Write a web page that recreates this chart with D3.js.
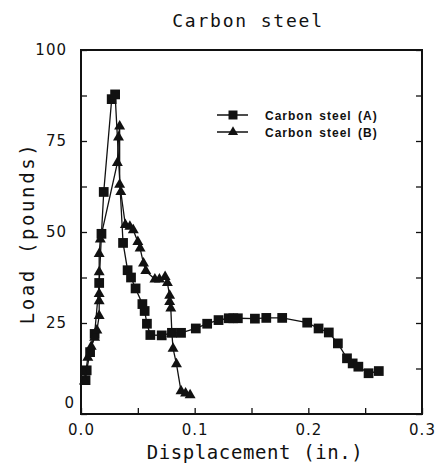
<!DOCTYPE html>
<html>
<head>
<meta charset="utf-8">
<script src="https://cdn.jsdelivr.net/npm/d3@7"></script>
<style>
  html, body { margin: 0; padding: 0; background: #fff; }
  svg { display: block; }
</style>
</head>
<body>
<svg id="chart" width="439" height="473"></svg>
<script>
// Load–displacement curves for two carbon steel specimens
const titleText = "Carbon steel";
const xLabel = "Displacement (in.)";
const yLabel = "Load (pounds)";
const seriesNames = ["Carbon steel (A)", "Carbon steel (B)"];

// Specimen A (square markers)
const dispA = [0.004, 0.005, 0.008, 0.012, 0.016, 0.018, 0.020, 0.027, 0.030, 0.037,
               0.041, 0.044, 0.048, 0.054, 0.056, 0.058, 0.061, 0.071, 0.080, 0.088,
               0.101, 0.111, 0.121, 0.130, 0.134, 0.138, 0.153, 0.163, 0.177, 0.199,
               0.209, 0.218, 0.226, 0.234, 0.239, 0.244, 0.253, 0.262];
const loadA = [9.3, 12, 17, 22, 36, 49.5, 61, 86.5, 87.8, 47,
               39.5, 37.5, 34.5, 30.2, 28.3, 24.8, 21.7, 21.6, 22.3, 22.3,
               23.5, 24.8, 25.8, 26.3, 26.3, 26.3, 26.2, 26.4, 26.4, 25.1,
               23.5, 22.4, 19.4, 15.3, 13.9, 13, 11.2, 11.8];

// Specimen B (triangle markers)
const dispB = [0.003, 0.006, 0.009, 0.012, 0.014, 0.016, 0.016, 0.016, 0.016, 0.016,
               0.017, 0.032, 0.033, 0.034, 0.034, 0.035, 0.039, 0.043, 0.046, 0.050,
               0.052, 0.055, 0.057, 0.065, 0.069, 0.074, 0.076, 0.078, 0.078, 0.079,
               0.080, 0.081, 0.084, 0.088, 0.092, 0.096];
const loadB = [9, 15.5, 18.5, 21, 23, 27, 31, 33, 39, 44,
               48, 69, 76, 79, 63, 61, 52, 51.5, 50.5, 47.3,
               45.5, 41.4, 39.3, 37, 37, 37.7, 36, 32.5, 30.8, 29,
               22, 18, 13.7, 6.3, 5.7, 5.2];

const xMajorTicks = [0.0, 0.1, 0.2, 0.3];
const xAllTicks = [0, 0.05, 0.1, 0.15, 0.2, 0.25, 0.3];
const yMajorTicks = [0, 25, 50, 75, 100];
const yAllTicks = [0, 12.5, 25, 37.5, 50, 62.5, 75, 87.5, 100];

const svg = d3.select("#chart");
const L = 81, R = 422, T = 50, B = 414;

const x = d3.scaleLinear().domain([0, 0.3]).range([L, R]);
const y = d3.scaleLinear().domain([0, 100]).range([B, T]);

const monoFont = "'DejaVu Sans Mono', monospace";
const tickFont = "'DejaVu Sans', sans-serif";

// Axes: ticks point inward, tick labels only on the majors
const fmtX = d => xMajorTicks.some(v => Math.abs(v - d) < 1e-9) ? d3.format(".1f")(d) : "";
const fmtY = d => yMajorTicks.includes(d) ? String(d) : "";

const gx = svg.append("g").attr("transform", `translate(0,${B})`)
  .call(d3.axisBottom(x).tickValues(xAllTicks).tickSizeInner(-6).tickSizeOuter(0)
    .tickPadding(10).tickFormat(fmtX));
const gy = svg.append("g").attr("transform", `translate(${L},0)`)
  .call(d3.axisLeft(y).tickValues(yAllTicks).tickSizeInner(-6).tickSizeOuter(0)
    .tickPadding(14).tickFormat(fmtY));
const gr = svg.append("g").attr("transform", `translate(${R},0)`)
  .call(d3.axisRight(y).tickValues(yAllTicks).tickSizeInner(-6).tickSizeOuter(0)
    .tickFormat(""));

[gx, gy, gr].forEach(g => {
  g.select(".domain").remove();
  g.selectAll(".tick line").attr("stroke", "#111").attr("stroke-width", 1.3);
  g.selectAll("text")
    .attr("font-family", tickFont).attr("font-size", 15)
    .attr("letter-spacing", 1).attr("fill", "#111");
});
// The zero label sits a little above the corner
gy.selectAll(".tick").filter(d => d === 0).select("text")
  .attr("dy", "-0.45em").attr("x", -6);

// Plot frame drawn as four solid bars from the scale extents
const [x0, x1] = x.range();
const [y0, y1] = y.range();
const bw = 2;
const bars = [
  { x: x0 - bw / 2, y: y1 - bw / 2, w: x1 - x0 + bw, h: bw },
  { x: x0 - bw / 2, y: y0 - bw / 2, w: x1 - x0 + bw, h: bw },
  { x: x0 - bw / 2, y: y1 - bw / 2, w: bw, h: y0 - y1 + bw },
  { x: x1 - bw / 2, y: y1 - bw / 2, w: bw, h: y0 - y1 + bw }
];
svg.append("g").selectAll("rect").data(bars).join("rect")
  .attr("x", d => d.x).attr("y", d => d.y)
  .attr("width", d => d.w).attr("height", d => d.h)
  .attr("fill", "#111");

// Series lines and markers
const dataA = dispA.map((d, i) => ({ x: d, y: loadA[i] }));
const dataB = dispB.map((d, i) => ({ x: d, y: loadB[i] }));
const line = d3.line().x(d => x(d.x)).y(d => y(d.y));

const series = [
  { data: dataA, symbol: d3.symbolSquare, size: 95 },
  { data: dataB, symbol: d3.symbolTriangle, size: 52 }
];

series.forEach(s => {
  svg.append("path").datum(s.data)
    .attr("d", line).attr("fill", "none")
    .attr("stroke", "#111").attr("stroke-width", 1.3);
  svg.append("g").selectAll("path").data(s.data).join("path")
    .attr("transform", d => `translate(${x(d.x)},${y(d.y)})`)
    .attr("d", d3.symbol().type(s.symbol).size(s.size))
    .attr("fill", "#111");
});

// Legend
const legend = svg.append("g");
series.forEach((s, i) => {
  const ly = 115 + i * 17;
  legend.append("line")
    .attr("x1", 217).attr("x2", 248).attr("y1", ly).attr("y2", ly)
    .attr("stroke", "#111").attr("stroke-width", 1.5);
  legend.append("path")
    .attr("transform", `translate(233,${ly})`)
    .attr("d", d3.symbol().type(s.symbol).size(s.size * 0.85))
    .attr("fill", "#111");
  legend.append("text")
    .attr("x", 265).attr("y", ly + 4.5)
    .attr("font-family", "'Liberation Sans', Arial, sans-serif")
    .attr("font-weight", "bold").attr("font-size", 12)
    .attr("letter-spacing", 1).attr("word-spacing", 2)
    .attr("fill", "#111")
    .text(seriesNames[i]);
});

// Title and axis titles
svg.append("text")
  .attr("x", 248).attr("y", 27).attr("text-anchor", "middle")
  .attr("font-family", monoFont).attr("font-size", 18).attr("letter-spacing", 1.8)
  .attr("fill", "#111").text(titleText);

svg.append("text")
  .attr("x", 255).attr("y", 459).attr("text-anchor", "middle")
  .attr("font-family", monoFont).attr("font-size", 19).attr("letter-spacing", 0.6)
  .attr("fill", "#111").text(xLabel);

svg.append("text")
  .attr("transform", "translate(34,233) rotate(-90)")
  .attr("text-anchor", "middle")
  .attr("font-family", monoFont).attr("font-size", 19).attr("letter-spacing", 2.6)
  .attr("fill", "#111").text(yLabel);
</script>
</body>
</html>
